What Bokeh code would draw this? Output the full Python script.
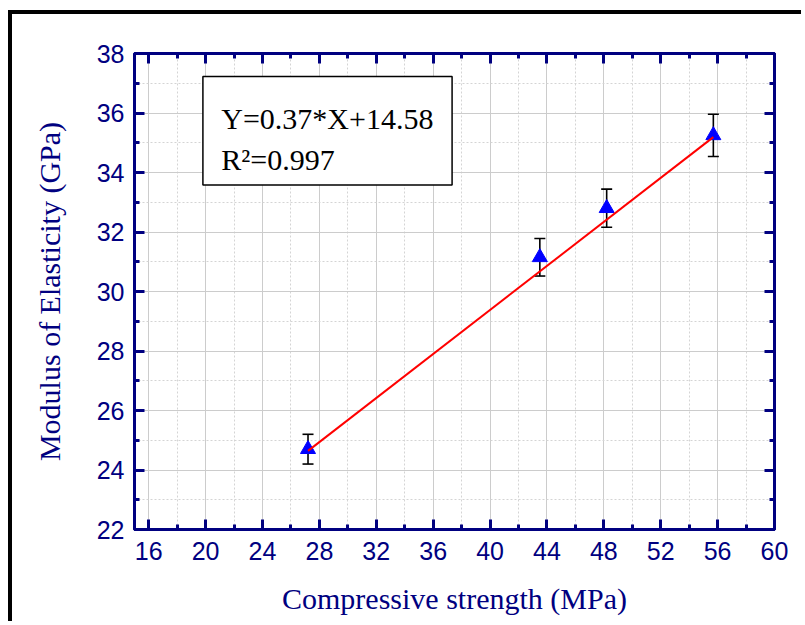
from bokeh.plotting import figure
from bokeh.models import (ColumnDataSource, Whisker, TeeHead, FixedTicker, LinearAxis,
                          BoxAnnotation, Label, Range1d, CustomLabelingPolicy)
from bokeh.embed import file_html
from bokeh.resources import INLINE

# ---- data ----
strength = [27.2, 43.5, 48.2, 55.7]          # Compressive strength (MPa)
modulus = [24.7, 31.15, 32.8, 35.25]         # Modulus of elasticity (GPa)
modulus_err = [0.5, 0.63, 0.64, 0.71]        # error bar half-length (GPa)
fit_slope = 0.37
fit_intercept = 14.58
fit_r2 = 0.997
x_major = [16, 20, 24, 28, 32, 36, 40, 44, 48, 52, 56, 60]
x_minor = [18, 22, 26, 30, 34, 38, 42, 46, 50, 54, 58]
y_major = [22, 24, 26, 28, 30, 32, 34, 36, 38]
y_minor = [23, 25, 27, 29, 31, 33, 35, 37]

NAVY = "#000080"
SANS = "'Liberation Sans', Arial, sans-serif"
SERIF = "'Liberation Serif', 'Times New Roman', serif"

src = ColumnDataSource(dict(
    x=strength, y=modulus,
    upper=[m + e for m, e in zip(modulus, modulus_err)],
    lower=[m - e for m, e in zip(modulus, modulus_err)],
))
fit_x = [min(strength), max(strength)]
fit_src = ColumnDataSource(dict(x=fit_x, y=[fit_slope * v + fit_intercept for v in fit_x]))

p = figure(width=793, height=611, x_range=Range1d(15, 60), y_range=Range1d(22, 38),
           output_backend="svg", toolbar_location=None,
           min_border_left=122, min_border_right=27, min_border_top=39, min_border_bottom=96,
           x_axis_label="Compressive strength (MPa)",
           y_axis_label="Modulus of Elasticity (GPa)")
p.styles = {"margin-left": "8px", "margin-top": "10px",
            "border-top": "4px solid black", "border-left": "4px solid black"}
p.outline_line_color = NAVY
p.outline_line_width = 3

xt = FixedTicker(ticks=x_major, minor_ticks=x_minor)
yt = FixedTicker(ticks=y_major, minor_ticks=y_minor)
bottom_ax = p.below[0]
left_ax = p.left[0]
bottom_ax.ticker = xt
left_ax.ticker = yt
hide_all = CustomLabelingPolicy(code="""
    for (const i of Array.from(indices)) { indices.unset(i) }
    return indices
""")
top_ax = LinearAxis(ticker=xt, major_label_policy=hide_all, major_label_standoff=0)
right_ax = LinearAxis(ticker=yt, major_label_policy=hide_all, major_label_standoff=0)
p.add_layout(top_ax, "above")
p.add_layout(right_ax, "right")

for ax in (bottom_ax, left_ax, top_ax, right_ax):
    ax.axis_line_color = NAVY
    ax.axis_line_width = 3
    ax.major_tick_line_color = NAVY
    ax.major_tick_line_width = 3
    ax.minor_tick_line_color = NAVY
    ax.minor_tick_line_width = 3
    ax.major_tick_in = 10
    ax.major_tick_out = 0
    ax.minor_tick_in = 5
    ax.minor_tick_out = 0
    ax.major_label_text_color = NAVY
    ax.major_label_text_font = SANS
    ax.major_label_text_font_size = "25px"
    ax.axis_label_text_color = NAVY
    ax.axis_label_text_font = SERIF
    ax.axis_label_text_font_size = "30px"
    ax.axis_label_text_font_style = "normal"

bottom_ax.major_label_standoff = 12
bottom_ax.axis_label_standoff = 19
left_ax.major_label_standoff = 10
left_ax.axis_label_standoff = 28

p.xgrid.ticker = xt
p.ygrid.ticker = yt
for g in (p.xgrid[0], p.ygrid[0]):
    g.grid_line_color = "#cccccc"
    g.grid_line_width = 1
    g.minor_grid_line_color = "#d4d4d4"
    g.minor_grid_line_width = 1
    g.minor_grid_line_dash = "2 2"

err = Whisker(source=src, base="x", upper="upper", lower="lower",
              line_color="black", line_width=1.6, level="underlay",
              upper_head=TeeHead(size=11, line_color="black", line_width=1.6),
              lower_head=TeeHead(size=11, line_color="black", line_width=1.6))
p.add_layout(err)

p.scatter("x", "y", source=src, marker="triangle", size=15,
          fill_color="#0000ff", line_color="#0000ff")
p.line("x", "y", source=fit_src, line_color="#ff0000", line_width=2)

p.add_layout(BoxAnnotation(left=19.81, right=37.33, bottom=33.58, top=37.23,
                           fill_color="white", fill_alpha=1.0,
                           line_color="black", line_alpha=1.0, line_width=1.5))
p.add_layout(Label(x=21.1, y=35.8, text=f"Y={fit_slope}*X+{fit_intercept}",
                   text_font=SERIF, text_font_size="30px", text_color="black",
                   text_baseline="alphabetic"))
p.add_layout(Label(x=21.1, y=34.45, text=f"R\u00b2={fit_r2}",
                   text_font=SERIF, text_font_size="30px", text_color="black",
                   text_baseline="alphabetic"))

open("out.html", "w").write(file_html(p, INLINE))
